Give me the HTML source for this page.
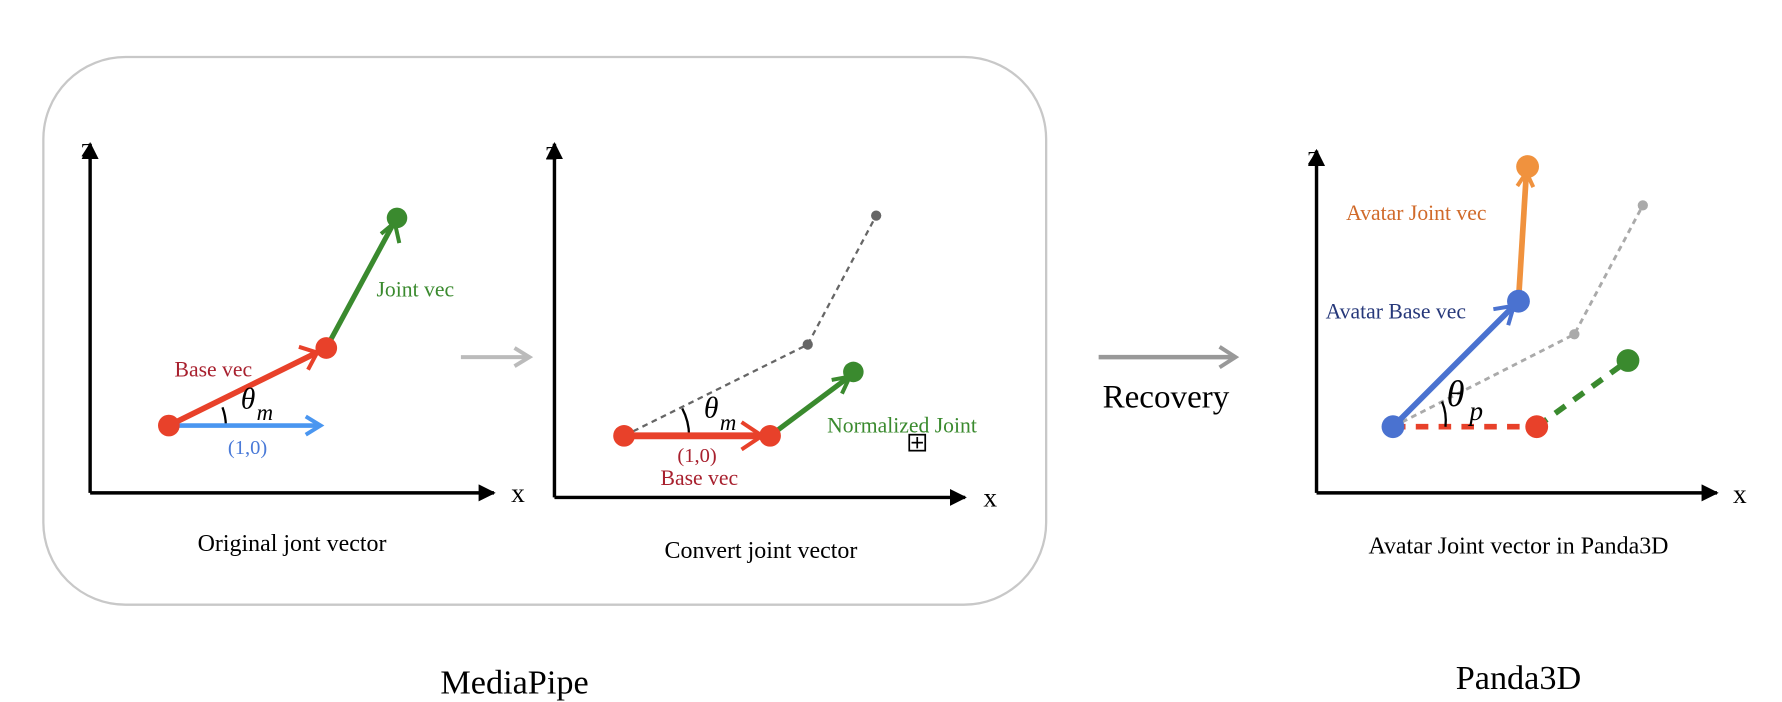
<!DOCTYPE html>
<html><head><meta charset="utf-8"><style>
html,body{margin:0;padding:0;background:#fff;}
svg{display:block;}
text{font-family:"Liberation Serif",serif;}
</style></head><body>
<svg width="1782" height="702" viewBox="0 0 1562 615.3" preserveAspectRatio="none" xmlns="http://www.w3.org/2000/svg">
<defs>
<marker id="blk" viewBox="0 0 10 10" refX="9" refY="5" markerWidth="5" markerHeight="5" orient="auto"><path d="M0,0 L10,5 L0,10 z" fill="#000"/></marker>
</defs>
<rect x="38" y="50" width="879" height="480" rx="72" fill="none" stroke="#c8c8c8" stroke-width="2"/>

<!-- Panel 1 -->
<line x1="79" y1="432" x2="79" y2="126" stroke="#000" stroke-width="3" marker-end="url(#blk)"/>
<line x1="79" y1="432" x2="433" y2="432" stroke="#000" stroke-width="3" marker-end="url(#blk)"/>
<text x="71" y="137" font-size="24">z</text>
<text x="448" y="440" font-size="24">x</text>
<path d="M195,357 A48,48 0 0 1 198,373" fill="none" stroke="#000" stroke-width="2"/>
<line x1="148" y1="373" x2="280" y2="373" stroke="#4a96f0" stroke-width="4"/>
<path d="M268,365 L281,373 L268,381" fill="none" stroke="#4a96f0" stroke-width="3.5"/>
<line x1="148" y1="373" x2="286" y2="305" stroke="#e8412a" stroke-width="5"/>
<path d="M262,304 L278,309 L270,324" fill="none" stroke="#e8412a" stroke-width="3.5"/>
<line x1="286" y1="305" x2="346" y2="194" stroke="#3a8a2e" stroke-width="4.5"/>
<path d="M334,205 L346,195 L350,213" fill="none" stroke="#3a8a2e" stroke-width="3.5"/>
<circle cx="148" cy="373" r="9.5" fill="#e8412a"/>
<circle cx="286" cy="305" r="9.5" fill="#e8412a"/>
<circle cx="348" cy="191" r="9" fill="#3a8a2e"/>
<text x="153" y="330" font-size="19" fill="#a8202e">Base vec</text>
<text x="330" y="260" font-size="19" fill="#3a8a2e">Joint vec</text>
<text x="211" y="358" font-size="26" font-style="italic">θ</text>
<text x="225" y="368" font-size="20" font-style="italic">m</text>
<text x="217" y="398" font-size="18" fill="#4a7ad8" text-anchor="middle">(1,0)</text>
<text x="256" y="483" font-size="21" text-anchor="middle">Original jont vector</text>

<line x1="404" y1="313" x2="462" y2="313" stroke="#bbb" stroke-width="3.5"/>
<path d="M451,305 L464,313 L451,321" fill="none" stroke="#bbb" stroke-width="3.5"/>

<!-- Panel 2 -->
<line x1="486" y1="436" x2="486" y2="126" stroke="#000" stroke-width="3" marker-end="url(#blk)"/>
<line x1="486" y1="436" x2="846" y2="436" stroke="#000" stroke-width="3" marker-end="url(#blk)"/>
<text x="478" y="140" font-size="24">z</text>
<text x="862" y="444" font-size="24">x</text>
<polyline points="547,382 708,302 768,189" fill="none" stroke="#666" stroke-width="2" stroke-dasharray="5,4"/>
<circle cx="708" cy="302" r="4.5" fill="#666"/>
<circle cx="768" cy="189" r="4.5" fill="#666"/>
<path d="M598,358 A52,52 0 0 1 604,382" fill="none" stroke="#000" stroke-width="2"/>
<line x1="547" y1="382" x2="672" y2="382" stroke="#e8412a" stroke-width="6"/>
<path d="M650,370 L668,382 L650,394" fill="none" stroke="#e8412a" stroke-width="3.5"/>
<line x1="675" y1="382" x2="746" y2="329" stroke="#3a8a2e" stroke-width="4.5"/>
<path d="M729,333 L745,330 L738,345" fill="none" stroke="#3a8a2e" stroke-width="3.5"/>
<circle cx="547" cy="382" r="9.5" fill="#e8412a"/>
<circle cx="675" cy="382" r="9.5" fill="#e8412a"/>
<circle cx="748" cy="326" r="9" fill="#3a8a2e"/>
<text x="617" y="366" font-size="26" font-style="italic">θ</text>
<text x="631" y="377" font-size="20" font-style="italic">m</text>
<text x="611" y="405" font-size="18" fill="#a8202e" text-anchor="middle">(1,0)</text>
<text x="613" y="425" font-size="19" fill="#a8202e" text-anchor="middle">Base vec</text>
<text x="725" y="379" font-size="19" fill="#3a8a2e">Normalized Joint</text>
<rect x="797" y="381" width="14" height="14" fill="none" stroke="#000" stroke-width="1.5"/>
<line x1="804" y1="383" x2="804" y2="393" stroke="#000" stroke-width="1.5"/>
<line x1="799" y1="388" x2="809" y2="388" stroke="#000" stroke-width="1.5"/>
<text x="667" y="489" font-size="21" text-anchor="middle">Convert joint vector</text>

<!-- Recovery -->
<line x1="963" y1="313" x2="1081" y2="313" stroke="#999" stroke-width="4"/>
<path d="M1069,304 L1083,313 L1069,322" fill="none" stroke="#999" stroke-width="3.5"/>
<text x="1022" y="357" font-size="29" text-anchor="middle">Recovery</text>

<!-- Panel 3 -->
<line x1="1154" y1="432" x2="1154" y2="132" stroke="#000" stroke-width="3" marker-end="url(#blk)"/>
<line x1="1154" y1="432" x2="1505" y2="432" stroke="#000" stroke-width="3" marker-end="url(#blk)"/>
<text x="1146" y="144" font-size="24">z</text>
<text x="1519" y="441" font-size="24">x</text>
<polyline points="1221,374 1380,293 1440,180" fill="none" stroke="#aaa" stroke-width="2.5" stroke-dasharray="5,4"/>
<circle cx="1380" cy="293" r="4.5" fill="#aaa"/>
<circle cx="1440" cy="180" r="4.5" fill="#aaa"/>
<line x1="1221" y1="374" x2="1347" y2="374" stroke="#e8412a" stroke-width="5" stroke-dasharray="11,9"/>
<line x1="1347" y1="374" x2="1427" y2="316" stroke="#3a8a2e" stroke-width="5" stroke-dasharray="11,9"/>
<path d="M1264,352 A44,44 0 0 1 1267,374" fill="none" stroke="#000" stroke-width="2"/>
<line x1="1221" y1="374" x2="1328" y2="267" stroke="#4a72d0" stroke-width="5"/>
<line x1="1331" y1="264" x2="1338" y2="150" stroke="#f0923e" stroke-width="5"/>
<path d="M1330,163 L1338,151 L1344,164" fill="none" stroke="#f0923e" stroke-width="3.5"/>
<path d="M1309,271 L1327,268 L1322,285" fill="none" stroke="#4a72d0" stroke-width="3.5"/>
<circle cx="1221" cy="374" r="10" fill="#4a72d0"/>
<circle cx="1347" cy="374" r="10" fill="#e8412a"/>
<circle cx="1331" cy="264" r="10" fill="#4a72d0"/>
<circle cx="1339" cy="146" r="10" fill="#f0923e"/>
<circle cx="1427" cy="316" r="10" fill="#3a8a2e"/>
<text x="1180" y="193" font-size="19" fill="#d06a2a">Avatar Joint vec</text>
<text x="1162" y="279" font-size="19" fill="#26387a">Avatar Base vec</text>
<text x="1268" y="356" font-size="32" font-style="italic">θ</text>
<text x="1288" y="368" font-size="24" font-style="italic">p</text>
<text x="1331" y="485" font-size="21" text-anchor="middle">Avatar Joint vector in Panda3D</text>

<text x="451" y="608" font-size="30" text-anchor="middle">MediaPipe</text>
<text x="1331" y="604" font-size="30" text-anchor="middle">Panda3D</text>
</svg>
</body></html>
